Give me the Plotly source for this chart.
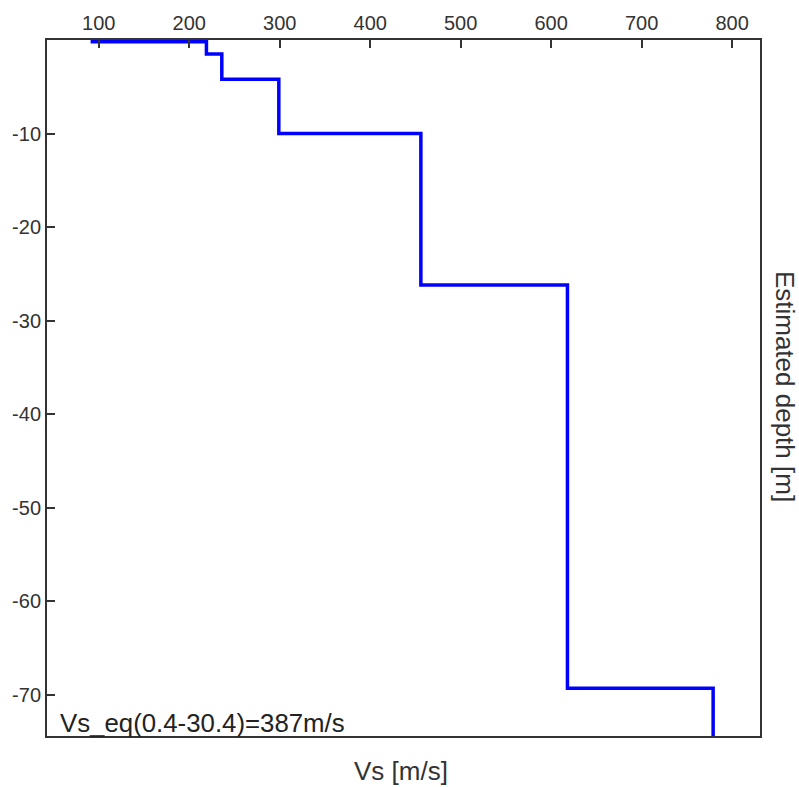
import plotly.graph_objects as go

# Layer velocities (m/s) and step depths (m)
vs = [91, 219, 236, 299, 456, 618, 779]
depth = [-0.2, -1.5, -4.2, -10, -26.2, -69.3, -74.4]
x_ticks = [100, 200, 300, 400, 500, 600, 700, 800]
y_ticks = [-10, -20, -30, -40, -50, -60, -70]
note = "Vs_eq(0.4-30.4)=387m/s"

FONT = "Liberation Sans, Arial, sans-serif"

fig = go.Figure()
fig.add_trace(go.Scatter(
    x=vs, y=depth, mode="lines", line_shape="hv",
    line=dict(color="#0000FF", width=3.5), showlegend=False, hoverinfo="skip",
))

axis_common = dict(
    showgrid=False, zeroline=False, showline=True, linecolor="#333333",
    linewidth=2, mirror=True, ticks="inside", ticklen=8, tickwidth=1.5,
    tickcolor="#333333", tickfont=dict(family=FONT, size=20, color="#333333"),
)

fig.update_xaxes(range=[42.8, 830.8], side="top", tickvals=x_ticks,
                 ticktext=[str(v) for v in x_ticks], **axis_common)
fig.update_yaxes(range=[-74.4, 0], tickvals=y_ticks,
                 ticktext=[str(v) for v in y_ticks], **axis_common)

fig.add_annotation(x=0.5 - 0.004, y=0, xref="paper", yref="paper",
                   text="Vs [m/s]", showarrow=False, yanchor="top", yshift=-18,
                   font=dict(family=FONT, size=26, color="#333333"))
fig.add_annotation(x=1, y=0.5 + 0.003, xref="paper", yref="paper",
                   text="Estimated depth [m]", showarrow=False, textangle=90,
                   xanchor="left", xshift=8,
                   font=dict(family=FONT, size=26, color="#333333"))
fig.add_annotation(x=0, y=0, xref="paper", yref="paper", text=note,
                   showarrow=False, xanchor="left", yanchor="bottom",
                   xshift=11, yshift=-3,
                   font=dict(family=FONT, size=25.8, color="#222222"))

fig.update_layout(
    width=799, height=787,
    margin=dict(l=44, r=39, t=39, b=51),
    paper_bgcolor="white", plot_bgcolor="white",
)

fig.write_html("out.html")
